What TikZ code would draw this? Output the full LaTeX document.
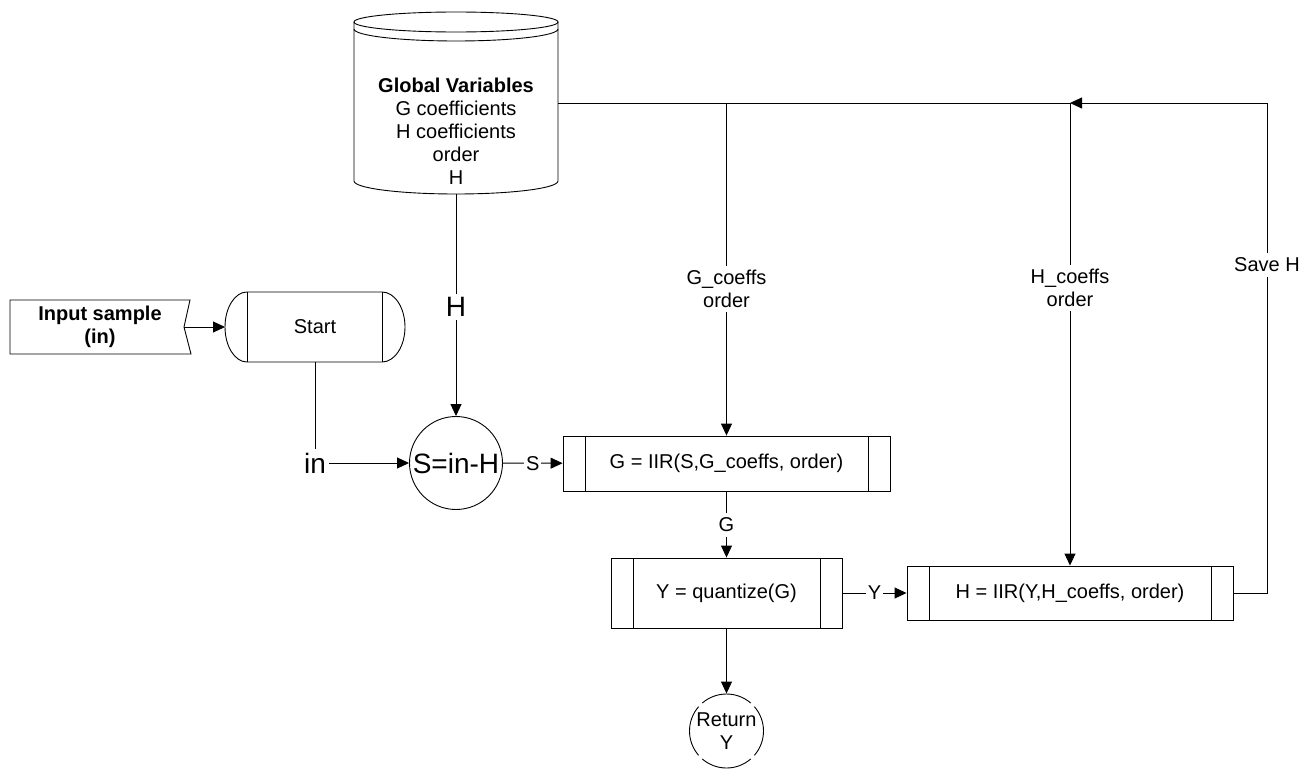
\documentclass[tikz,border=0pt]{standalone}
\usepackage{fontspec}
\setmainfont{Liberation Sans}
\usetikzlibrary{arrows.meta,shapes.geometric}

\begin{document}
\begin{tikzpicture}[x=1pt, y=-1pt,
			>={Triangle[length=12pt,width=11pt]},   %Pfeilspitzen
			font=\fontsize{20}{23}\selectfont, line width=0.9pt,
			proc/.style={draw, rectangle, minimum width=#1, inner sep=0pt,
				path picture={
					\draw ([xshift=22pt]path picture bounding box.north west) -- ([xshift=22pt]path picture bounding box.south west);
					\draw ([xshift=-22pt]path picture bounding box.north east) -- ([xshift=-22pt]path picture bounding box.south east);}},
			lbl/.style={fill=white, inner sep=2pt},
			big/.style={font=\fontsize{28}{32}\selectfont, inner sep=3pt},
			txt/.style={align=center, inner sep=4pt}]
			\useasboundingbox (0,0) rectangle (1315,771);
			% Knoten setzen
			\node[minimum width=204pt, minimum height=182pt, outer sep=0pt] (glob) at (456,103) {};
			\node[txt] (globtxt) at ([yshift=-28pt]glob.center) {\textbf{Global Variables}\\G coefficients\\H coefficients\\order\\H};
			\node[minimum width=180pt, minimum height=54pt, outer sep=0pt, align=center] (inp) at (100,327) {\textbf{Input sample}\\\textbf{(in)}};
			\node[minimum width=180pt, minimum height=70pt, outer sep=0pt] (start) at (315,327) {Start};
			\node[big] (inlab) at (315,463) {in};
			\node[big] (hlab) at (456,307) {H};
			\node[big, draw, circle, minimum size=93pt, inner sep=0pt] (sub) at (456,463) {S=in-H};
			\node[proc=327pt, minimum height=55pt] (gbox) at (726.5,463.5) {G = IIR(S,G\_coeffs, order)};
			\node[txt] (gklab) at (726.5,289) {G\_coeffs\\order};
			\node[txt] (glab) at (726.5,525) {G};
			\node[proc=231pt, minimum height=70pt] (ybox) at (726.5,593) {Y = quantize(G)};
			\node[proc=326pt, minimum height=54pt] (hbox) at (1070,593) {H = IIR(Y,H\_coeffs, order)};
			\node[txt] (hklab) at (1070,288) {H\_coeffs\\order};
			\node[txt] (savelab) at (1267,265) {Save H};
			\node[circle, minimum size=74pt, inner sep=0pt, align=center] (ret) at (726.5,731) {Return\\Y};
			% Datenspeicher zeichnen
			\draw ([yshift=-10pt]glob.north) ellipse [x radius=102pt, y radius=10pt];
			\draw ([yshift=-17pt]glob.north west) arc[start angle=180, end angle=360, x radius=102pt, y radius=12pt];
			\draw ([yshift=-10pt]glob.north west) -- ([yshift=13pt]glob.south west) arc[start angle=180, end angle=360, x radius=102pt, y radius=13pt] -- ([yshift=-10pt]glob.north east);
			% Eingabe und Start
			\draw (inp.south west) -- (inp.north west) -- (inp.north east) -- ([xshift=-6pt]inp.east) -- ([xshift=1pt]inp.south east) -- cycle;
			\draw ([xshift=22pt]start.north west) -- ([xshift=-23pt]start.north east) arc[start angle=90, end angle=-90, x radius=23pt, y radius=35pt] -- ([xshift=22pt]start.south west) arc[start angle=270, end angle=90, x radius=22pt, y radius=35pt];
			\draw ([xshift=22pt]start.north west) -- ([xshift=22pt]start.south west) ([xshift=-23pt]start.north east) -- ([xshift=-23pt]start.south east);
			% Rueckgabe
			\foreach \a in {0,90,180,270}
				\draw ([shift={({\a-41}:37pt)}]ret.center) arc[start angle=\a-41, end angle=\a+41, radius=37pt];
			% Verbindungen
			\draw[->] ([xshift=-6pt]inp.east) -- (start.west);
			\draw (start.south) -- (inlab);
			\draw[->] (inlab) -- (sub);
			\draw (glob.south) -- (hlab);
			\draw[->] (hlab) -- (sub);
			\draw (glob.east) -- (glob.east -| hbox.north);
			\draw[->] (glob.east -| gbox.north) -- (gklab) -- (gbox.north);
			\draw[->] (glob.east -| hbox.north) -- (hklab) -- (hbox.north);
			\draw[->] (hbox.east) -- (hbox.east -| savelab) -- (savelab) -- (savelab |- glob.east) -- (glob.east -| hbox.north);
			\draw[->] (sub) -- node[lbl] {S} (gbox);
			\draw[->] (gbox) -- (glab) -- (ybox);
			\draw[->] (ybox) -- node[lbl] {Y} (hbox);
			\draw[->] (ybox) -- (ret);
		\end{tikzpicture}
\end{document}
